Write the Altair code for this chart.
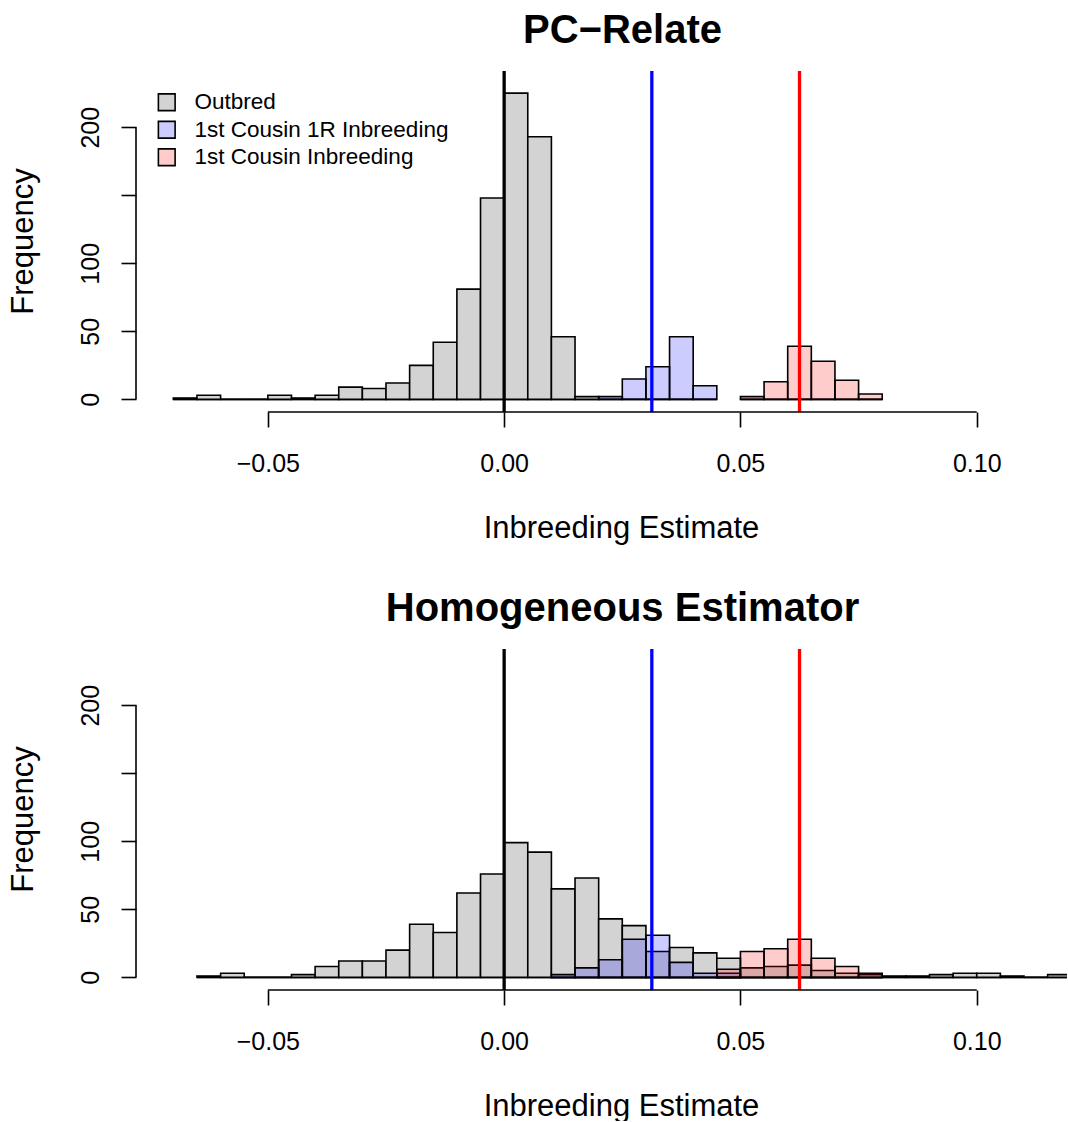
import altair as alt
import pandas as pd

FONT = "Liberation Sans"
BIN_WIDTH = 0.005

SERIES = ["Outbred", "1st Cousin 1R Inbreeding", "1st Cousin Inbreeding"]
FILLS = ["#d3d3d3", "rgba(0,0,255,0.2)", "rgba(255,0,0,0.2)"]

# Reference lines: outbred (0), first cousins once removed (1/32), first cousins (1/16)
LINE_POS = [0.0, 1 / 32, 1 / 16]
LINE_COLORS = ["black", "blue", "red"]

X_TICKS = [-0.05, 0.0, 0.05, 0.10]
Y_TICKS = [0, 50, 100, 150, 200]
X_DOMAIN = [-0.0779, 0.1191]
Y_DOMAIN = [-9.28, 241.28]

# ---- PC-Relate histogram counts (left edge of first bin, then counts per bin)
pc_outbred_start = -0.07
pc_outbred = [1, 3, 0, 0, 3, 1, 3, 9, 8, 12, 25, 42, 81, 148, 225, 193, 46, 2]
pc_cousin1r_start = 0.02
pc_cousin1r = [2, 15, 24, 46, 10]
pc_cousin_start = 0.05
pc_cousin = [2, 13, 39, 28, 14, 4]

# ---- Homogeneous estimator histogram counts
hom_outbred_start = -0.065
hom_outbred = [1, 3, 0, 0, 2, 8, 12, 12, 20, 39, 33, 62, 76, 99, 92, 65, 73, 43,
               38, 19, 22, 18, 14, 7, 8, 9, 5, 3, 2, 1, 1, 2, 3, 3, 1, 0, 2]
hom_cousin1r_start = 0.01
hom_cousin1r = [2, 7, 13, 28, 31, 11, 3, 3]
hom_cousin_start = 0.045
hom_cousin = [6, 19, 21, 28, 14, 8, 3]


def hist_table(groups):
    rows, spans = [], []
    for name, start, counts in groups:
        for i, c in enumerate(counts):
            lo = round(start + i * BIN_WIDTH, 4)
            rows.append({"series": name, "lo": lo, "hi": round(lo + BIN_WIDTH, 4),
                         "count": c, "base": 0})
        spans.append({"lo": start, "hi": round(start + len(counts) * BIN_WIDTH, 4), "base": 0})
    return pd.DataFrame(rows), pd.DataFrame(spans)


xscale = alt.Scale(domain=X_DOMAIN, nice=False, zero=False)
yscale = alt.Scale(domain=Y_DOMAIN, nice=False, zero=False)
fill_scale = alt.Scale(domain=SERIES, range=FILLS)

x_axis = alt.Axis(
    values=X_TICKS, domain=False, grid=False, tickSize=15, tickWidth=1.6, tickColor="black",
    labelFont=FONT, labelFontSize=25, labelColor="black", labelPadding=44,
    labelBaseline="alphabetic", labelFlush=False, labelOverlap=False,
    labelExpr="replace(format(datum.value, '.2f'), '-', '\u2212')",
    title="Inbreeding Estimate", titleFont=FONT, titleFontSize=31, titleFontWeight="normal",
    titleColor="black", titleX=485, titleY=125, titleBaseline="alphabetic", titleAlign="center",
)
y_axis = alt.Axis(
    values=Y_TICKS, domain=False, grid=False, tickSize=15, tickWidth=1.6, tickColor="black",
    labelFont=FONT, labelFontSize=25, labelColor="black", labelAngle=270,
    labelAlign="center", labelBaseline="alphabetic", labelPadding=23, labelOverlap=False,
    labelExpr="datum.value == 150 ? '' : datum.label",
    title="Frequency", titleFont=FONT, titleFontSize=31, titleFontWeight="normal",
    titleColor="black", titleAngle=270, titleX=-104, titleY=170,
    titleBaseline="alphabetic", titleAlign="center",
)


def panel(title, groups, show_legend):
    bars_df, span_df = hist_table(groups)
    legend = None
    if show_legend:
        legend = alt.Legend(
            title=None, orient="none", legendX=19.5, legendY=20, padding=0,
            labelFont=FONT, labelFontSize=22.5, labelColor="black", labelOffset=16.5,
            labelLimit=0, symbolType="square", symbolSize=280, symbolStrokeColor="black",
            symbolStrokeWidth=1.6, rowPadding=3.5, symbolOpacity=1,
        )

    bars = alt.Chart(bars_df).mark_rect(stroke="black", strokeWidth=1.6, clip=True).encode(
        x=alt.X("lo:Q", scale=xscale, axis=x_axis),
        x2="hi:Q",
        y=alt.Y("count:Q", scale=yscale, axis=y_axis),
        y2="base:Q",
        fill=alt.Fill("series:N", scale=fill_scale, legend=legend),
    )
    baselines = alt.Chart(span_df).mark_rule(color="black", strokeWidth=1.6, clip=True).encode(
        x="lo:Q", x2="hi:Q", y="base:Q"
    )

    x_line = alt.Chart(pd.DataFrame({"lo": [X_TICKS[0]], "hi": [X_TICKS[-1]],
                                     "y": [Y_DOMAIN[0]]})).mark_rule(
        color="black", strokeWidth=1.6).encode(x="lo:Q", x2="hi:Q", y="y:Q")
    y_line = alt.Chart(pd.DataFrame({"lo": [Y_TICKS[0]], "hi": [Y_TICKS[-1]],
                                     "x": [X_DOMAIN[0]]})).mark_rule(
        color="black", strokeWidth=1.6).encode(y="lo:Q", y2="hi:Q", x="x:Q")

    vlines = alt.Chart(pd.DataFrame({"pos": LINE_POS, "col": LINE_COLORS})).mark_rule(
        strokeWidth=3.3).encode(
        x="pos:Q", color=alt.Color("col:N", scale=None, legend=None)
    )

    return alt.layer(baselines, bars, vlines, x_line, y_line).properties(
        width=931, height=341,
        title=alt.TitleParams(title, font=FONT, fontSize=40, fontWeight="bold", color="black",
                              anchor="middle", dx=21, offset=-14, baseline="alphabetic"),
    )


top = panel("PC\u2212Relate", [
    (SERIES[0], pc_outbred_start, pc_outbred),
    (SERIES[1], pc_cousin1r_start, pc_cousin1r),
    (SERIES[2], pc_cousin_start, pc_cousin),
], True)

bottom = panel("Homogeneous Estimator", [
    (SERIES[0], hom_outbred_start, hom_outbred),
    (SERIES[1], hom_cousin1r_start, hom_cousin1r),
    (SERIES[2], hom_cousin_start, hom_cousin),
], False)

chart = alt.vconcat(top, bottom, spacing=46).resolve_legend(fill="independent").properties(
    padding={"left": 7, "top": 11, "right": 0, "bottom": 0},
    background="white",
).configure_view(strokeWidth=0, stroke=None)

chart.save("out.html", embed_options={"renderer": "svg", "actions": False})
